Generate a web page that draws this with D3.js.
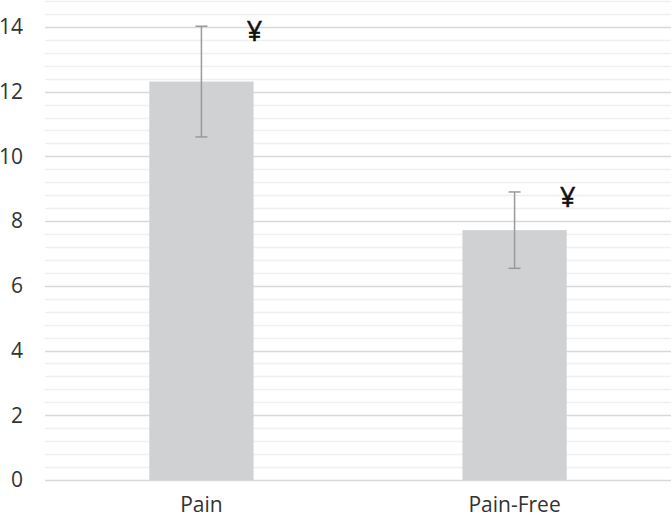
<!DOCTYPE html>
<html>
<head>
<meta charset="utf-8">
<script src="https://cdn.jsdelivr.net/npm/d3@7"></script>
<style>
  body { margin: 0; background: #fff; }
  text { font-family: "Open Sans", sans-serif; }
</style>
</head>
<body>
<svg id="chart" width="672" height="519"></svg>
<script>
var categories = ['Pain', 'Pain-Free'];
var means = [12.31, 7.72];
var errs = [1.71, 1.18];
var marks = ['¥', '¥'];
var majorTicks = [0, 2, 4, 6, 8, 10, 12, 14];

var svg = d3.select('#chart'),
    margin = {top: 1, right: 1, bottom: 39, left: 45},
    width = 672 - margin.left - margin.right,
    height = 519 - margin.top - margin.bottom;

var g = svg.append('g').attr('transform', 'translate(' + margin.left + ',' + margin.top + ')');

var x = d3.scaleBand().domain(categories).range([0, width]).paddingInner(0.667).paddingOuter(0.333);
var y = d3.scaleLinear().domain([0, 14.8]).range([height, 0]);

// minor gridlines every 0.4
var minor = d3.range(0.4, 14.81, 0.4).filter(function(v){ return Math.abs(v / 2 - Math.round(v / 2)) > 0.01; });
g.selectAll('.minor').data(minor).enter().append('line')
  .attr('x1', 0).attr('x2', width)
  .attr('y1', function(d){ return Math.round(y(d)) + 0.5; })
  .attr('y2', function(d){ return Math.round(y(d)) + 0.5; })
  .attr('stroke', '#f0f0f0').attr('stroke-width', 1.5);

g.selectAll('.major').data(majorTicks).enter().append('line')
  .attr('x1', 0).attr('x2', width)
  .attr('y1', function(d){ return Math.round(y(d)) + 0.5; })
  .attr('y2', function(d){ return Math.round(y(d)) + 0.5; })
  .attr('stroke', '#d9d9d9').attr('stroke-width', 1.5);

g.selectAll('.ylab').data(majorTicks).enter().append('text')
  .attr('x', -22).attr('y', function(d){ return y(d); })
  .attr('dy', '0.35em').attr('text-anchor', 'end')
  .attr('font-size', 21).attr('fill', '#333')
  .text(function(d){ return d; });

g.selectAll('.bar').data(categories).enter().append('rect')
  .attr('x', function(d){ return x(d); })
  .attr('width', x.bandwidth())
  .attr('y', function(d, i){ return y(means[i]); })
  .attr('height', function(d, i){ return y(0) - y(means[i]); })
  .attr('fill', '#d0d1d3');

var eb = g.selectAll('.err').data(categories).enter().append('g')
  .attr('stroke', '#9a9a9a').attr('stroke-width', 1.5);
eb.append('line')
  .attr('x1', function(d){ return x(d) + x.bandwidth() / 2; })
  .attr('x2', function(d){ return x(d) + x.bandwidth() / 2; })
  .attr('y1', function(d, i){ return y(means[i] + errs[i]); })
  .attr('y2', function(d, i){ return y(means[i] - errs[i]); });
[1, -1].forEach(function(s){
  eb.append('line')
    .attr('x1', function(d){ return x(d) + x.bandwidth() / 2 - 6; })
    .attr('x2', function(d){ return x(d) + x.bandwidth() / 2 + 6; })
    .attr('y1', function(d, i){ return y(means[i] + s * errs[i]); })
    .attr('y2', function(d, i){ return y(means[i] + s * errs[i]); });
});

g.selectAll('.mark').data(categories).enter().append('text')
  .attr('x', function(d){ return x(d) + x.bandwidth() + 1; })
  .attr('y', function(d, i){ return y(means[i] + errs[i]) + 15; })
  .attr('text-anchor', 'middle').attr('font-size', 27).attr('fill', '#111')
  .attr('stroke', '#111').attr('stroke-width', 0.5)
  .text(function(d, i){ return marks[i]; });

g.selectAll('.xlab').data(categories).enter().append('text')
  .attr('x', function(d){ return x(d) + x.bandwidth() / 2; })
  .attr('y', height + 32)
  .attr('text-anchor', 'middle').attr('font-size', 21).attr('fill', '#333')
  .text(function(d){ return d; });
</script>
</body>
</html>
